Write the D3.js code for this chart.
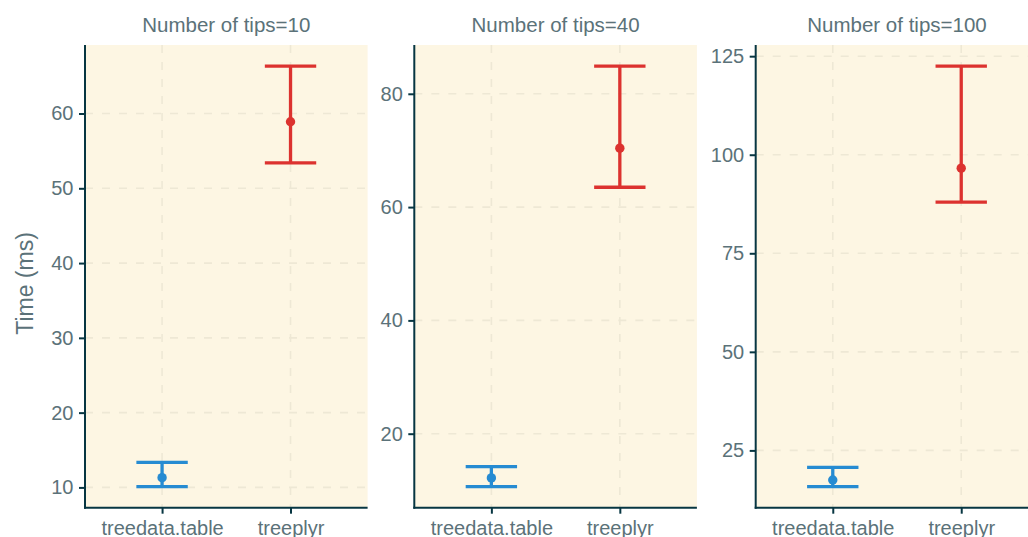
<!DOCTYPE html>
<html>
<head>
<meta charset="utf-8">
<script src="https://cdn.jsdelivr.net/npm/d3@7"></script>
<style>
  body { margin: 0; background: #ffffff; }
  svg { display: block; font-family: "Liberation Sans", Arial, sans-serif; }
</style>
</head>
<body>
<div id="chart"></div>
<script>
// data
const categories = ["treedata.table", "treeplyr"];
const tips = [10, 40, 100];
const meanTreedata = [11.3, 12.2, 17.5];
const meanTreeplyr = [58.9, 70.4, 96.6];
const lowTreedata = [10.1, 10.65, 15.8];
const lowTreeplyr = [53.4, 63.5, 88.0];
const highTreedata = [13.35, 14.2, 20.7];
const highTreeplyr = [66.35, 84.9, 122.5];
const yTicks = [
  [10, 20, 30, 40, 50, 60],
  [20, 40, 60, 80],
  [25, 50, 75, 100, 125]
];

const colors = { "treedata.table": "#268bd2", "treeplyr": "#dc322f" };
const textColor = "#5b7279";
const axisColor = "#073642";
const gridColor = "#eee8d5";
const panelBg = "#fdf6e3";

const width = 1028, height = 537;
const panelLefts = [85, 414.3, 755.7];
const panelW = 282.6;
const plotTop = 45, plotBottom = 507.7;
const plotH = plotBottom - plotTop;

const svg = d3.select("#chart")
  .append("svg")
  .attr("width", width)
  .attr("height", height)
  .style("overflow", "hidden");

// y axis title
svg.append("text")
  .attr("transform", "translate(33," + 283.5 + ") rotate(-90)")
  .attr("text-anchor", "middle")
  .style("font-size", "23px")
  .style("fill", textColor)
  .text("Time (ms)");

tips.forEach((n, i) => {
  const rows = [
    { cat: categories[0], mean: meanTreedata[i], lo: lowTreedata[i], hi: highTreedata[i] },
    { cat: categories[1], mean: meanTreeplyr[i], lo: lowTreeplyr[i], hi: highTreeplyr[i] }
  ];

  // ggplot-like 5% expansion
  const mn = d3.min(rows, d => d.lo), mx = d3.max(rows, d => d.hi);
  const pad = (mx - mn) * 0.05;

  const x = d3.scalePoint().domain(categories).range([0, panelW]).padding(0.6);
  const y = d3.scaleLinear().domain([mn - pad, mx + pad]).range([plotH, 0]);

  const g = svg.append("g")
    .attr("transform", "translate(" + panelLefts[i] + "," + plotTop + ")");

  // panel background
  g.append("rect")
    .attr("width", panelW)
    .attr("height", plotH)
    .attr("fill", panelBg);

  // grid lines
  g.selectAll(".hgrid")
    .data(yTicks[i])
    .enter()
    .append("line")
    .attr("x1", 0).attr("x2", panelW)
    .attr("y1", d => y(d)).attr("y2", d => y(d))
    .attr("stroke", gridColor)
    .attr("stroke-width", 1.6)
    .attr("stroke-dasharray", "8,9");

  g.selectAll(".vgrid")
    .data(categories)
    .enter()
    .append("line")
    .attr("x1", d => x(d)).attr("x2", d => x(d))
    .attr("y1", 0).attr("y2", plotH)
    .attr("stroke", gridColor)
    .attr("stroke-width", 1.6)
    .attr("stroke-dasharray", "8,9");

  // panel title
  svg.append("text")
    .attr("x", panelLefts[i] + panelW / 2)
    .attr("y", 31.5)
    .attr("text-anchor", "middle")
    .style("font-size", "20.5px")
    .style("fill", textColor)
    .text("Number of tips=" + n);

  // error bars
  const capHalf = x.step() * 0.2;
  const bars = g.selectAll(".bar")
    .data(rows)
    .enter()
    .append("g");

  bars.append("line")
    .attr("x1", d => x(d.cat)).attr("x2", d => x(d.cat))
    .attr("y1", d => y(d.lo)).attr("y2", d => y(d.hi))
    .attr("stroke", d => colors[d.cat])
    .attr("stroke-width", 3.3);

  bars.append("line")
    .attr("x1", d => x(d.cat) - capHalf).attr("x2", d => x(d.cat) + capHalf)
    .attr("y1", d => y(d.hi)).attr("y2", d => y(d.hi))
    .attr("stroke", d => colors[d.cat])
    .attr("stroke-width", 3.3);

  bars.append("line")
    .attr("x1", d => x(d.cat) - capHalf).attr("x2", d => x(d.cat) + capHalf)
    .attr("y1", d => y(d.lo)).attr("y2", d => y(d.lo))
    .attr("stroke", d => colors[d.cat])
    .attr("stroke-width", 3.3);

  bars.append("circle")
    .attr("cx", d => x(d.cat))
    .attr("cy", d => y(d.mean))
    .attr("r", 4.7)
    .attr("fill", d => colors[d.cat]);

  // axes
  const yAxis = g.append("g")
    .call(d3.axisLeft(y).tickValues(yTicks[i]).tickSize(6).tickPadding(5.5).tickFormat(d3.format("d")));

  const xAxis = g.append("g")
    .attr("transform", "translate(0," + plotH + ")")
    .call(d3.axisBottom(x).tickSize(6).tickPadding(7));

  [yAxis, xAxis].forEach(ax => {
    ax.select(".domain").remove();
    ax.selectAll(".tick line").attr("stroke", axisColor).attr("stroke-width", 2);
    ax.selectAll(".tick text")
      .style("font-size", "20px")
      .style("font-family", "'Liberation Sans', Arial, sans-serif")
      .attr("fill", textColor);
  });
  xAxis.selectAll(".tick text").attr("dy", "0.71em");

  // axis lines
  g.append("line")
    .attr("x1", 0).attr("x2", 0)
    .attr("y1", 0).attr("y2", plotH + 1)
    .attr("stroke", axisColor)
    .attr("stroke-width", 2);

  g.append("line")
    .attr("x1", -1).attr("x2", panelW)
    .attr("y1", plotH).attr("y2", plotH)
    .attr("stroke", axisColor)
    .attr("stroke-width", 2);
});
</script>
</body>
</html>
